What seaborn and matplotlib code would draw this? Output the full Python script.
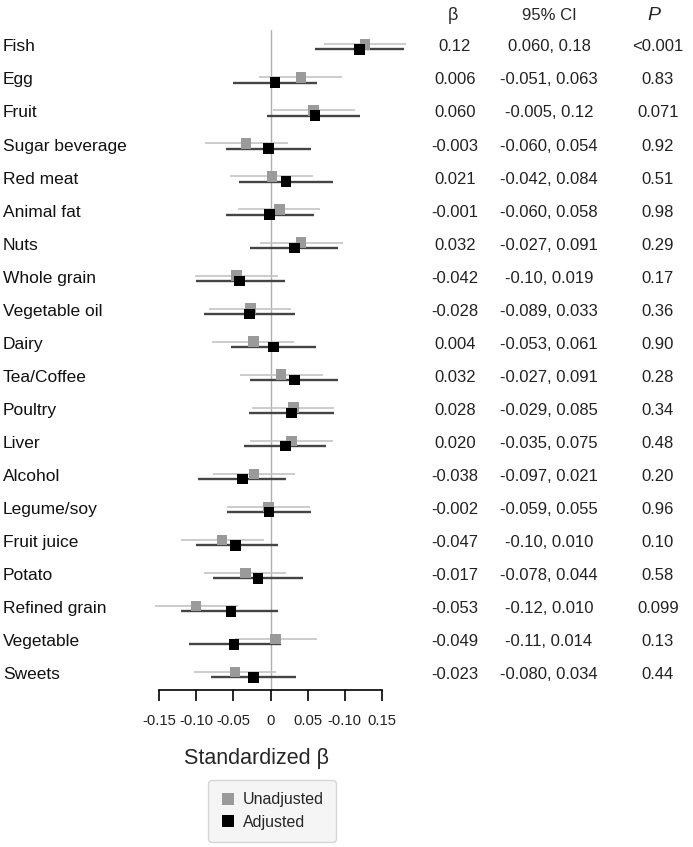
import numpy as np
import pandas as pd
import matplotlib.pyplot as plt
import matplotlib.transforms as mtransforms
import seaborn as sns

# data ########################################################################
foods = ["Fish", "Egg", "Fruit", "Sugar beverage", "Red meat", "Animal fat",
         "Nuts", "Whole grain", "Vegetable oil", "Dairy", "Tea/Coffee",
         "Poultry", "Liver", "Alcohol", "Legume/soy", "Fruit juice", "Potato",
         "Refined grain", "Vegetable", "Sweets"]

# adjusted (from table)
adj_beta = [0.12, 0.006, 0.060, -0.003, 0.021, -0.001, 0.032, -0.042, -0.028,
            0.004, 0.032, 0.028, 0.020, -0.038, -0.002, -0.047, -0.017,
            -0.053, -0.049, -0.023]
adj_lo = [0.060, -0.051, -0.005, -0.060, -0.042, -0.060, -0.027, -0.10,
          -0.089, -0.053, -0.027, -0.029, -0.035, -0.097, -0.059, -0.10,
          -0.078, -0.12, -0.11, -0.080]
adj_hi = [0.18, 0.063, 0.12, 0.054, 0.084, 0.058, 0.091, 0.019, 0.033, 0.061,
          0.091, 0.085, 0.075, 0.021, 0.055, 0.010, 0.044, 0.010, 0.014,
          0.034]

# unadjusted
unadj_beta = [0.127, 0.041, 0.058, -0.033, 0.002, 0.012, 0.041, -0.046,
              -0.027, -0.023, 0.014, 0.031, 0.028, -0.022, -0.003, -0.065,
              -0.034, -0.100, 0.007, -0.048]
unadj_lo = [0.072, -0.015, 0.003, -0.088, -0.054, -0.044, -0.014, -0.101,
            -0.083, -0.079, -0.041, -0.025, -0.027, -0.078, -0.059, -0.120,
            -0.090, -0.156, -0.048, -0.103]
unadj_hi = [0.182, 0.096, 0.114, 0.023, 0.057, 0.067, 0.097, 0.010, 0.028,
            0.032, 0.070, 0.086, 0.084, 0.033, 0.053, -0.009, 0.021, -0.044,
            0.062, 0.007]

# table text
beta_text = ["0.12", "0.006", "0.060", "-0.003", "0.021", "-0.001", "0.032",
             "-0.042", "-0.028", "0.004", "0.032", "0.028", "0.020", "-0.038",
             "-0.002", "-0.047", "-0.017", "-0.053", "-0.049", "-0.023"]
ci_text = ["0.060, 0.18", "-0.051, 0.063", "-0.005, 0.12", "-0.060, 0.054",
           "-0.042, 0.084", "-0.060, 0.058", "-0.027, 0.091", "-0.10, 0.019",
           "-0.089, 0.033", "-0.053, 0.061", "-0.027, 0.091", "-0.029, 0.085",
           "-0.035, 0.075", "-0.097, 0.021", "-0.059, 0.055", "-0.10, 0.010",
           "-0.078, 0.044", "-0.12, 0.010", "-0.11, 0.014", "-0.080, 0.034"]
p_text = ["<0.001", "0.83", "0.071", "0.92", "0.51", "0.98", "0.29", "0.17",
          "0.36", "0.90", "0.28", "0.34", "0.48", "0.20", "0.96", "0.10",
          "0.58", "0.099", "0.13", "0.44"]

xticks = [-0.15, -0.10, -0.05, 0, 0.05, 0.10, 0.15]
xtick_labels = ["-0.15", "-0.10", "-0.05", "0", "0.05", "-0.10", "0.15"]

# settings
OFFSET = 0.08
W, H = 693, 847


def main():
    sns.set_theme(style="white")
    plt.rcParams["font.family"] = ["Liberation Sans", "DejaVu Sans"]

    rows = np.arange(len(foods))
    df = pd.DataFrame({
        "row": np.concatenate([rows - OFFSET, rows + OFFSET]),
        "beta": unadj_beta + adj_beta,
        "lo": unadj_lo + adj_lo,
        "hi": unadj_hi + adj_hi,
        "model": ["Unadjusted"] * len(foods) + ["Adjusted"] * len(foods),
    })

    fig = plt.figure(figsize=(W / 100, H / 100), dpi=100)
    ax = fig.add_axes([159 / W, 1 - 690 / H, (382 - 159) / W, (690 - 30) / H])

    # zero line
    ax.axvline(0, color="#b0b0b0", linewidth=1, zorder=1)

    # confidence intervals
    un = df[df.model == "Unadjusted"]
    ad = df[df.model == "Adjusted"]
    ax.hlines(un.row, un.lo, un.hi, color="#c4c4c4", linewidth=1.2,
              clip_on=False, zorder=2)
    ax.hlines(ad.row, ad.lo, ad.hi, color="#444444", linewidth=1.7,
              clip_on=False, zorder=3)

    # point estimates
    sns.scatterplot(data=df, x="beta", y="row", hue="model",
                    hue_order=["Unadjusted", "Adjusted"],
                    palette={"Unadjusted": "#9a9a9a", "Adjusted": "#000000"},
                    marker="s", s=58, linewidth=0, ax=ax, zorder=4,
                    clip_on=False)

    ax.set_xlim(-0.15, 0.15)
    ax.set_ylim(len(foods) - 0.54, -0.51)
    ax.set_yticks([])
    ax.set_xticks(xticks)
    ax.set_xticklabels(xtick_labels, fontsize=10.7, color="#222222")
    ax.tick_params(axis="x", direction="out", length=8, width=1.2,
                   color="black", pad=9, bottom=True)
    ax.set_xlabel("")
    ax.set_ylabel("")
    for side in ["left", "top", "right"]:
        ax.spines[side].set_visible(False)
    ax.spines["bottom"].set_color("black")
    ax.spines["bottom"].set_linewidth(1.2)
    ax.patch.set_alpha(0)

    # labels and table
    tr = mtransforms.blended_transform_factory(fig.transFigure, ax.transData)
    for i in rows:
        ax.text(3 / W, i, foods[i], transform=tr, ha="left", va="center",
                fontsize=12.5, color="#111111")
        ax.text(455 / W, i, beta_text[i], transform=tr, ha="center",
                va="center", fontsize=12, color="#222222")
        ax.text(549 / W, i, ci_text[i], transform=tr, ha="center",
                va="center", fontsize=12, color="#222222")
        ax.text(658 / W, i, p_text[i], transform=tr, ha="center",
                va="center", fontsize=12, color="#222222")

    hy = 1 - 16 / H
    fig.text(453 / W, hy, "\u03b2", ha="center", va="center", fontsize=13)
    fig.text(549 / W, hy, "95% CI", ha="center", va="center", fontsize=12)
    fig.text(654 / W, hy, "P", ha="center", va="center", fontsize=14,
             style="italic")

    fig.text(257 / W, 1 - 758 / H, "Standardized \u03b2", ha="center",
             va="center", fontsize=15.5)

    # legend
    handles, labels = ax.get_legend_handles_labels()
    ax.get_legend().remove()
    leg = fig.legend(handles, labels, loc="center",
                     bbox_to_anchor=(272 / W, 1 - 811 / H), fontsize=11.5,
                     frameon=True, facecolor="#f3f3f3", edgecolor="#cccccc",
                     handletextpad=0.4, borderpad=0.75, labelspacing=0.45,
                     handlelength=1.0, markerscale=1.15)
    leg.get_frame().set_linewidth(1)

    fig.savefig("out.png", dpi=100)


if __name__ == "__main__":
    main()
